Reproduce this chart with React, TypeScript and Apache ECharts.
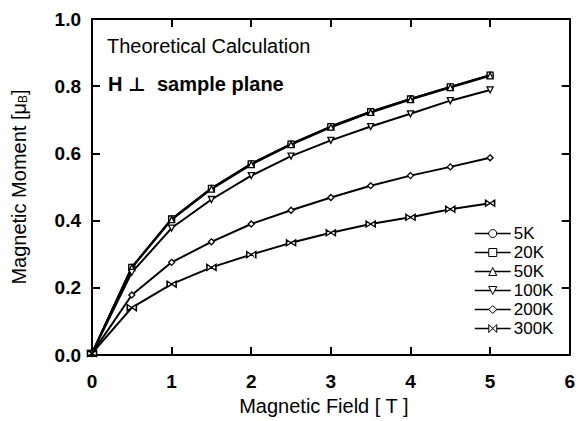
import React, { useEffect, useRef } from "react";
import * as echarts from "echarts";

const fieldT = [0, 0.5, 1, 1.5, 2, 2.5, 3, 3.5, 4, 4.5, 5];
const m5K = [0.005, 0.261, 0.405, 0.496, 0.569, 0.628, 0.68, 0.724, 0.762, 0.798, 0.833];
const m20K = [0.005, 0.261, 0.405, 0.496, 0.569, 0.628, 0.68, 0.724, 0.762, 0.798, 0.833];
const m50K = [0.005, 0.26, 0.403, 0.494, 0.567, 0.626, 0.678, 0.722, 0.76, 0.796, 0.831];
const m100K = [0.005, 0.246, 0.378, 0.463, 0.534, 0.592, 0.639, 0.68, 0.718, 0.757, 0.789];
const m200K = [0.005, 0.179, 0.276, 0.337, 0.39, 0.431, 0.469, 0.504, 0.534, 0.56, 0.587];
const m300K = [0.005, 0.141, 0.211, 0.261, 0.299, 0.334, 0.364, 0.39, 0.41, 0.434, 0.452];

const seriesNames = ["5K", "20K", "50K", "100K", "200K", "300K"];
const seriesData = [m5K, m20K, m50K, m100K, m200K, m300K];
const symbols = [
  "circle",
  "rect",
  "triangle",
  "path://M0,0L10,0L5,9Z",
  "diamond",
  "path://M0,0L10,5L0,10Z M20,0L10,5L20,10Z",
];
const symbolSizes: any[] = [6, 6, 6, 6, 6, [9, 6]];

const FONT = "Liberation Sans, Arial, Helvetica, sans-serif";

export default function App() {
  const ref = useRef<HTMLDivElement>(null);
  useEffect(() => {
    document.body.style.margin = "0";
    if (!ref.current) return;
    const chart = echarts.init(ref.current, null, { renderer: "svg" });
    const axisCommon = {
      axisLine: { show: true, onZero: false, lineStyle: { color: "#000", width: 2 } },
      axisTick: { show: true, inside: true, length: 8, lineStyle: { color: "#000", width: 2 } },
      splitLine: { show: false },
    };
    const series: any[] = seriesNames.map((name, i) => ({
      name,
      type: "line",
      data: fieldT.map((x, j) => [x, seriesData[i][j]]),
      symbol: symbols[i],
      symbolSize: symbolSizes[i],
      showAllSymbol: true,
      lineStyle: { color: "#000", width: 2 },
      itemStyle: { color: "#fff", borderColor: "#000", borderWidth: 1.3 },
      z: 2 + i,
    }));
    series.push({
      name: "frame",
      type: "line",
      xAxisIndex: 1,
      yAxisIndex: 1,
      data: [],
      silent: true,
    });
    chart.setOption({
      animation: false,
      backgroundColor: "#fff",
      textStyle: { fontFamily: FONT, color: "#000" },
      grid: { left: 92, right: 6, top: 19, bottom: 60 },
      legend: {
        orient: "vertical",
        left: 474,
        top: 225,
        itemWidth: 36,
        itemHeight: 10,
        itemGap: 2,
        padding: 0,
        data: seriesNames,
        lineStyle: { width: 1.5 },
        itemStyle: { borderWidth: 1 },
        textStyle: { fontFamily: FONT, fontSize: 17, lineHeight: 16, color: "#000", padding: [0, 0, 0, -2] },
      },
      xAxis: [
        {
          type: "value",
          min: 0,
          max: 6,
          interval: 1,
          position: "bottom",
          ...axisCommon,
          axisLabel: { color: "#000", fontSize: 19, fontWeight: "bold", margin: 17, fontFamily: FONT, showMaxLabel: true },
          name: "Magnetic Field [ T ]",
          nameLocation: "middle",
          nameGap: 39,
          nameTextStyle: { color: "#000", fontSize: 20, fontFamily: FONT, padding: [0, 14, 0, 0] },
        },
        {
          type: "value",
          min: 0,
          max: 6,
          interval: 1,
          position: "top",
          ...axisCommon,
          axisLabel: { show: false },
        },
      ],
      yAxis: [
        {
          type: "value",
          min: 0,
          max: 1,
          interval: 0.2,
          position: "left",
          ...axisCommon,
          axisLabel: {
            color: "#000",
            fontSize: 19,
            fontWeight: "bold",
            margin: 11,
            fontFamily: FONT,
            formatter: (v: number) => v.toFixed(1),
          },
          name: "Magnetic Moment [μ{sub|B}]",
          nameLocation: "middle",
          nameGap: 63,
          nameTextStyle: {
            color: "#000",
            fontSize: 20,
            fontFamily: FONT,
            rich: {
              sub: { fontSize: 12, fontFamily: FONT, color: "#000", verticalAlign: "bottom", padding: [7, 0, 0, 0] },
            },
          },
        },
        {
          type: "value",
          min: 0,
          max: 1,
          interval: 0.2,
          position: "right",
          ...axisCommon,
          axisLabel: { show: false },
        },
      ],
      graphic: [
        {
          type: "text",
          left: 107,
          top: 36,
          style: { text: "Theoretical Calculation", fontSize: 20, fontFamily: FONT, fill: "#000" },
        },
        {
          type: "text",
          left: 108,
          top: 74,
          style: { text: "H", fontSize: 20, fontWeight: "bold", fontFamily: FONT, fill: "#000" },
        },
        {
          type: "text",
          left: 128,
          top: 74,
          style: { text: "⊥", fontSize: 19, fontWeight: "bold", fontFamily: "DejaVu Sans", fill: "#000" },
        },
        {
          type: "text",
          left: 157,
          top: 74,
          style: { text: "sample plane", fontSize: 20, fontWeight: "bold", fontFamily: FONT, fill: "#000" },
        },
      ],
      series,
    });
    return () => chart.dispose();
  }, []);
  return <div ref={ref} style={{ width: 578, height: 421 }} />;
}
